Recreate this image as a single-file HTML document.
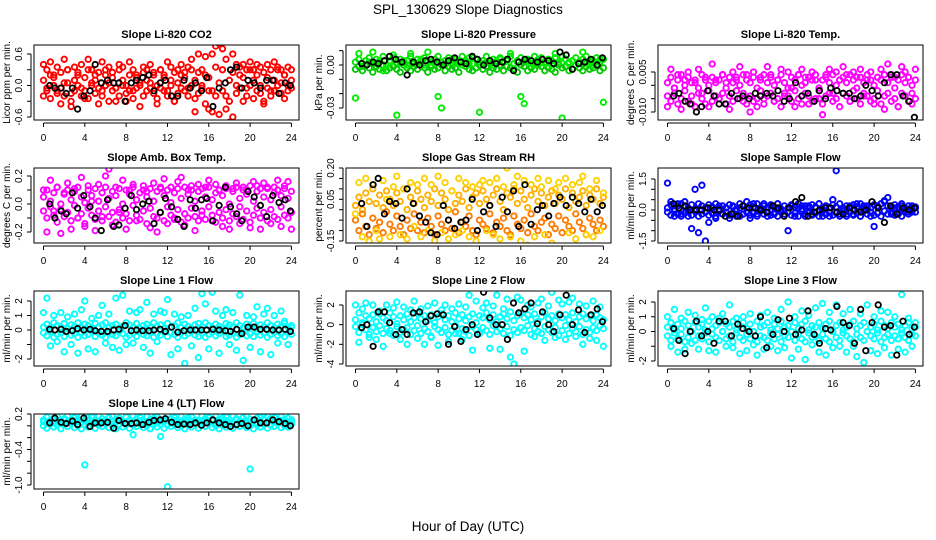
<!DOCTYPE html>
<html><head><meta charset="utf-8"><style>
body{margin:0;background:#fff;}
svg{display:block;font-family:"Liberation Sans",Arial,sans-serif;}
</style></head><body>
<svg id="chart" width="936" height="540" viewBox="0 0 936 540" xmlns="http://www.w3.org/2000/svg">
<rect x="0" y="0" width="936" height="540" fill="#fff"/>
<text x="468" y="14" font-size="13.5" text-anchor="middle">SPL_130629  Slope Diagnostics</text>
<text x="468" y="531" font-size="13.5" text-anchor="middle">Hour of Day (UTC)</text>
</svg>
<script>
const HC=[0,.33,.67,1,1.33,1.67,2,2.33,2.67,3,3.33,3.67,4,4.33,4.67,5,5.33,5.67,6,6.33,6.67,7,7.33,7.67,8,8.33,8.67,9,9.33,9.67,10,10.33,10.67,11,11.33,11.67,12,12.33,12.67,13,13.33,13.67,14,14.33,14.67,15,15.33,15.67,16,16.33,16.67,17,17.33,17.67,18,18.33,18.67,19,19.33,19.67,20,20.33,20.67,21,21.33,21.67,22,22.33,22.67,23,23.33,23.67,24];
const HB=[0.6,1.1,1.7,2.2,2.8,3.3,3.9,4.5,5.0,5.6,6.2,6.8,7.3,7.9,8.5,9.0,9.6,10.2,10.7,11.3,11.8,12.4,13.0,13.6,14.2,14.7,15.3,15.8,16.4,17.0,17.6,18.1,18.7,19.2,19.8,20.4,21.0,21.6,22.2,22.8,23.4,23.9];
const xTicks=[0,4,8,12,16,20,24];

const co2C1=[.1,-.05,.2,.15,-.1,.25,.05,.3,-.15,.1,.2,-.05,.15,.3,0,.1,.25,-.1,.2,.05,.15,-.05,.3,.1,0,.2,-.1,.15,.05,.25,.1,-.05,.2,0,.3,.15,-.1,.1,.25,.05,.2,.15,-.05,.3,.1,.25,0,.2,.15,-.1,.35,.05,.3,-.2,.1,.25,0,.2,.15,-.05,.3,.1,.2,0,.25,.15,-.1,.1,.3,.05,.2,0,.1];
const co2C2=[-.2,-.1,-.25,0,-.15,-.05,-.2,.05,-.3,-.1,0,-.2,-.1,-.25,.05,-.15,-.05,-.2,0,-.3,-.1,-.05,-.2,0,-.15,-.1,-.25,-.05,0,-.2,-.1,.05,-.15,-.25,-.05,-.1,-.2,0,-.3,-.15,-.05,-.1,-.2,0,-.25,-.15,-.05,-.35,-.1,-.5,-.2,-.55,-.1,-.45,-.3,-.6,-.15,-.05,-.3,-.2,0,-.25,-.1,-.15,-.3,-.05,-.2,-.1,0,-.15,-.25,-.1,-.05];
const co2C3=[.4,.3,.45,.2,.35,-.35,.5,.3,-.4,.35,.25,.4,-.25,.5,.3,.2,-.35,.45,.3,.35,.25,-.3,.4,.35,-.3,.45,.3,.2,-.4,.35,.3,.4,.25,-.35,.3,.2,.45,.35,-.3,.3,.4,.25,.35,.5,-.5,.6,.3,.55,-.45,.6,.75,.8,.7,.5,-.7,.6,.4,.35,.4,.3,.45,.3,.4,.35,-.35,.4,.3,.45,.35,.3,.2,.35,.3];
const co2B=[0,-.05,-.05,-.15,-.05,-.45,-.2,-.1,.4,.05,.1,.05,.05,-.3,.05,.1,.15,.2,-.1,.05,.1,-.2,-.2,.1,-.05,.05,-.1,.15,-.4,-.05,.05,.3,.35,-.05,.1,.05,-.05,.1,.1,-.15,.05,0];

const presC1=[.002,.004,-.001,.003,.005,.001,.004,.002,.006,0,.003,.005,.001,.004,.002,.003,.006,.001,.004,.002,.005,.003,0,.004,.006,.002,.003,.005,.001,.004,.002,.006,.003,.001,.005,.004,.002,.003,.006,.001,.004,.003,.005,.002,.004,.006,.001,.003,.005,.002,.004,.003,.006,.001,.005,.002,.004,.003,.005,.001,.006,.004,.002,.003,.005,.001,.004,.006,.002,.003,.005,.002,.004];
const presC2=[-.003,-.001,-.004,0,-.002,-.005,-.001,-.003,0,-.004,-.002,-.001,-.003,-.005,0,-.002,-.004,-.001,-.003,0,-.002,-.005,-.001,-.003,-.002,0,-.004,-.001,-.003,-.002,-.005,0,-.001,-.003,-.004,-.002,0,-.003,-.001,-.005,-.002,-.003,0,-.004,-.001,-.002,-.003,-.005,0,-.001,-.004,-.002,-.003,0,-.001,-.004,-.002,-.003,-.005,0,-.002,-.001,-.004,-.003,0,-.002,-.004,-.001,-.003,-.002,0,-.004,-.002];
const presC3=[-.023,.008,.001,0,.002,.009,.001,.003,-.004,0,.002,.007,-.035,.001,.003,0,.008,.002,.001,.004,0,.009,.002,.001,-.022,-.03,0,.002,.004,.001,.003,0,.002,.005,.001,.004,-.033,.001,.002,.003,0,.001,.004,.002,.003,.008,.001,.002,-.022,-.027,.003,.001,0,.004,.002,.001,.003,0,.008,.002,-.037,.004,.001,.003,0,.002,.009,.001,.003,0,.002,.004,-.026];
const presB=[.001,0,.002,.001,.003,.006,.004,.002,-.007,.002,0,.003,.004,.002,0,.003,.005,.002,.001,.006,.004,0,.003,.001,.002,.004,-.004,.002,.004,.003,.002,.004,.003,.001,.009,.007,-.003,.001,.002,.004,0,.005];

const ltC1=[.001,.003,-.001,.002,.004,0,.003,.001,.002,-.001,.004,.002,0,.003,.001,.002,.004,-.001,.003,.001,.002,0,.004,.002,.001,.003,-.001,.002,.004,.001,.003,0,.002,.004,.001,-.001,.003,.002,.004,0,.001,.003,.002,.004,-.001,.002,.003,.001,.004,0,.002,.003,.001,.004,.002,-.001,.003,.001,.004,.002,0,.003,.002,.004,.001,.003,-.001,.002,.004,.001,.003,0,.002];
const ltC2=[-.004,-.006,-.003,-.007,-.005,-.002,-.006,-.004,-.008,-.003,-.005,-.007,-.002,-.006,-.004,-.005,-.003,-.007,-.004,-.006,-.002,-.005,-.003,-.007,-.004,-.006,-.005,-.002,-.007,-.004,-.003,-.006,-.005,-.008,-.003,-.004,-.006,-.002,-.005,-.007,-.003,-.004,-.006,-.005,-.002,-.007,-.004,-.003,-.006,-.005,-.008,-.003,-.004,-.006,-.002,-.005,-.007,-.003,-.004,-.006,-.005,-.002,-.007,-.004,-.003,-.006,-.005,-.008,-.003,-.004,-.006,-.003,-.005];
const ltC3=[-.008,.006,-.001,.004,-.009,.002,.005,-.007,.001,.006,-.003,.003,-.008,.008,.002,-.005,.004,.001,-.009,.005,.003,.007,-.006,.004,-.01,.005,-.008,.003,-.005,.007,.004,-.006,.002,.006,-.004,.005,-.001,-.008,.004,.006,.003,-.007,.005,.002,-.005,-.011,.004,.006,-.003,.005,.002,.007,.004,-.006,.005,.003,.006,-.004,.002,.005,-.007,.003,.006,-.009,.008,.004,.003,-.008,.007,.005,.003,-.007,.006];
const ltB=[-.004,-.003,-.006,-.007,-.01,-.008,-.002,-.004,-.007,-.007,-.003,-.005,-.004,-.005,-.003,-.004,-.003,-.004,-.002,-.006,-.005,.001,-.004,-.003,-.006,-.002,-.005,-.001,-.002,-.003,-.003,-.005,-.004,0,-.002,-.004,.001,.004,.004,-.004,-.006,-.012];

const abC1=[.05,.1,.02,.08,.12,0,.07,.1,.03,.09,.12,.05,.01,.1,.06,.11,.02,.08,.12,.04,.09,.06,.11,0,.1,.07,.12,.03,.08,.1,.05,.11,.02,.09,.12,.06,.1,.01,.08,.11,.04,.12,.07,.1,.02,.09,.11,.05,.12,.03,.08,.1,.06,.11,0,.09,.12,.04,.1,.07,.13,.02,.09,.11,.05,.12,.03,.08,.1,.06,.11,.04,.09];
const abC2=[-.05,-.1,-.02,-.08,-.13,-.04,-.09,-.06,-.12,-.01,-.1,-.07,-.14,-.03,-.08,-.11,-.05,-.12,-.02,-.09,-.06,-.13,-.04,-.1,-.07,-.12,-.01,-.08,-.11,-.05,-.14,-.03,-.09,-.1,-.06,-.12,-.02,-.08,-.11,-.04,-.13,-.07,-.1,-.03,-.09,-.12,-.05,-.11,-.02,-.08,-.13,-.06,-.1,-.04,-.12,-.07,-.09,-.02,-.11,-.05,-.13,-.08,-.03,-.1,-.06,-.12,-.04,-.09,-.11,-.02,-.08,-.1,-.06];
const abC3=[.1,-.2,.17,-.05,.12,-.21,.08,.15,-.18,.11,-.1,.19,-.16,.13,.02,-.19,.14,-.09,.2,.25,-.15,.12,-.06,.17,-.18,.1,.14,-.12,-.3,.13,.09,-.17,.15,-.2,.11,.18,-.14,.12,-.1,.16,.19,-.15,.1,.13,-.19,.14,-.08,.12,.17,-.12,.14,.1,-.16,.13,-.18,.11,.15,-.14,.12,.1,-.17,.16,.13,-.18,.15,.11,-.14,.12,.17,-.16,.13,.16,-.18];
const abB=[0,-.1,-.05,-.07,.08,-.03,.06,-.02,-.1,-.19,.03,-.16,-.15,-.03,.06,-.04,0,.02,-.14,-.06,.04,-.02,-.11,-.16,.03,-.03,.03,.04,-.12,-.01,.12,-.02,-.07,-.12,.09,.05,-.01,-.09,.06,.01,.03,-.05];

const rhC1=[.02,.06,0,.08,.04,.1,.03,.07,.01,.09,.05,.02,.08,.04,.1,0,.06,.03,.09,.05,.01,.07,.04,.1,.02,.08,.05,0,.09,.03,.07,.04,.1,.01,.06,.08,.03,.09,.05,.02,.07,.1,.04,0,.08,.06,.1,.03,.09,.05,.01,.07,.1,.04,.08,.02,.06,.09,.03,.07,.05,.1,.01,.08,.04,.06,.09,.02,.07,.05,.1,.03,.06];
const rhC2=[-.05,-.1,-.02,-.08,-.12,-.04,-.09,-.06,-.11,-.01,-.07,-.1,-.03,-.08,-.12,-.05,-.09,-.02,-.1,-.06,-.11,-.04,-.08,-.12,-.03,-.07,-.1,-.05,-.09,-.01,-.11,-.06,-.08,-.03,-.1,-.12,-.05,-.07,-.09,-.02,-.11,-.06,-.08,-.04,-.1,-.12,-.03,-.07,-.09,-.05,-.11,-.02,-.08,-.1,-.06,-.04,-.12,-.07,-.09,-.03,-.11,-.05,-.08,-.1,-.02,-.06,-.09,-.12,-.04,-.07,-.1,-.05,-.08];
const rhC3=[-.02,.13,-.13,.15,-.15,.12,-.1,-.14,.14,.05,-.13,.11,.16,-.12,.1,-.14,.13,-.08,.12,-.13,.15,-.1,.12,-.15,.16,-.11,.13,-.14,.09,-.12,.15,-.1,.13,-.13,.11,-.15,.12,.14,-.1,.13,-.12,.15,-.14,.11,.2,-.13,.12,.16,-.15,.14,-.17,.12,-.13,.15,.11,-.12,.14,-.16,.1,.13,-.18,.15,-.11,.12,-.14,.13,.16,-.12,.1,-.13,.14,-.1,.08];
const rhB=[.03,-.08,.12,.15,-.02,.04,.03,-.04,.1,.03,-.03,-.06,-.11,-.12,.02,-.05,-.09,-.06,-.05,.05,-.1,-.01,.02,-.08,.06,-.01,.09,-.08,.12,-.07,0,.02,-.03,.03,.06,.02,.06,.03,-.01,.05,-.01,.02];

const sfC1=[.1,.25,.05,.2,.3,.15,.1,.25,.05,.3,.2,.1,.25,.15,.3,.05,.2,.1,.25,.15,.05,.3,.2,.1,.25,.15,.3,.05,.2,.1,.25,.15,.3,.05,.2,.1,.25,.15,.3,.05,.2,.1,.25,.15,.3,.05,.2,.1,.25,.15,.3,.05,.2,.1,.25,.15,.3,.05,.2,.1,.25,.15,.3,.45,.2,.1,.25,.15,.3,.05,.2,.1,.15];
const sfC2=[-.1,-.25,-.05,-.2,-.3,-.15,-.1,-.25,-.05,-.3,-.2,-.1,-.25,-.15,-.3,-.05,-.2,-.1,-.25,-.15,-.05,-.3,-.2,-.1,-.25,-.15,-.3,-.05,-.2,-.1,-.25,-.15,-.3,-.05,-.2,-.1,-.25,-.15,-.3,-.05,-.2,-.1,-.25,-.15,-.3,-.05,-.2,-.1,-.25,-.15,-.3,-.05,-.2,-.1,-.25,-.15,-.3,-.05,-.2,-.1,-.25,-.15,-.3,-.05,-.2,-.1,-.25,-.15,-.3,-.05,-.2,-.1,-.1];
const sfC3=[1.3,.4,-.3,.3,-.2,.4,-.3,-.9,1.0,-1.1,1.2,-1.5,-.6,.1,-.4,.2,-.2,.1,-.4,.2,-.3,.1,-.2,.4,-.4,.3,-.2,.1,.3,-.3,.2,-.2,.3,-.1,-.2,-1.0,.2,-.3,.1,.2,-.3,.2,-.2,.1,.3,-.3,.2,-.3,.5,1.9,-.2,.1,-.3,.2,-.2,.3,-.3,.2,.1,-.3,-.8,.2,.3,.4,.6,-.2,.1,-.2,.2,.1,-.1,.2,.1];
const sfB=[.3,.1,.2,0,0,0,.1,0,0,-.3,-.2,-.3,.2,.1,.1,0,-.1,.2,.1,-.3,.1,.4,.6,-.3,-.1,0,.1,.1,-.1,-.2,.1,0,-.1,0,.4,.1,-.6,.2,-.2,.1,0,.1];

const l1C1=[.2,.4,.1,.5,.3,.2,.45,.1,.35,.25,.5,.15,.4,.3,.1,.45,.2,.35,.5,.15,.3,.4,.1,.25,.5,.35,.2,.45,.1,.3,.4,.15,.5,.25,.35,.1,.45,.2,.3,.5,.15,.4,.25,.1,.35,.45,.2,.5,.3,.15,.4,.25,.1,.45,.35,.2,.5,.3,.15,.4,.25,.45,.1,.35,.2,.5,.3,.15,.4,.25,.45,.2,.3];
const l1C2=[-.2,-.4,-.1,-.5,-.3,-.2,-.45,-.1,-.35,-.25,-.5,-.15,-.4,-.3,-.1,-.45,-.2,-.35,-.5,-.15,-.3,-.4,-.1,-.25,-.5,-.35,-.2,-.45,-.1,-.3,-.4,-.15,-.5,-.25,-.35,-.1,-.45,-.2,-.3,-.5,-.15,-.4,-.25,-.1,-.35,-.45,-.2,-.5,-.3,-.15,-.4,-.25,-.1,-.45,-.35,-.2,-.5,-.3,-.15,-.4,-.25,-.45,-.1,-.35,-.2,-.5,-.3,-.15,-.4,-.25,-.45,-.2,-.3];
const l1C3=[1.2,2.2,-1.1,1.0,-.8,1.2,-1.5,.9,-1.0,1.1,-1.6,1.4,2.0,-1.3,.8,-1.5,1.0,1.7,-.9,1.1,-1.2,2.2,-1.4,2.4,-1.0,1.3,-.9,1.2,1.4,-1.2,1.9,-1.6,1.1,-.8,1.3,1.2,2.1,-1.7,1.1,-1.3,.9,-2.3,1.0,-1.1,1.5,-1.9,2.5,1.8,-1.3,2.6,1.3,-1.6,1.0,1.4,-1.0,1.2,-1.4,2.4,-2.1,1.0,-1.2,.9,1.6,-1.5,1.1,1.5,-1.7,1.0,-.9,1.3,.6,-1.0,.2];
const l1B=[.05,0,.05,-.1,-.05,.1,0,.05,-.05,-.1,-.1,0,.05,.3,-.05,0,-.05,-.05,0,.05,-.1,.2,-.15,-.05,0,0,0,0,.05,0,-.05,-.1,.05,-.25,.2,.2,.05,.05,0,0,.05,-.1];

const l2C1=[.5,1.2,.2,.9,.6,1.0,.3,1.1,.7,.4,1.2,.8,.1,.9,.5,1.1,.3,.7,1.2,.6,.9,.4,1.0,.2,.8,1.1,.5,.9,.3,1.2,.6,1.0,.4,.8,1.1,.2,.9,.7,1.2,.5,1.0,.3,.8,1.1,.6,1.3,.4,.9,1.2,.7,1.0,.5,1.1,.3,.8,1.2,.6,.9,.4,1.1,.7,1.0,.5,1.2,.3,.8,1.1,.6,.9,.4,1.0,.7,.5];
const l2C2=[-.2,-.8,0,-.5,-1.0,-.3,-.7,-.1,-.9,-.4,-.6,-1.1,-.2,-.8,-.5,-.3,-1.0,-.6,-.1,-.9,-.4,-.7,-1.2,-.2,-.5,-.8,-.3,-1.0,-.6,-.1,-.9,-.4,-.7,-1.1,-.2,-.5,-.8,-.3,-.6,-1.0,-.1,-.7,-.4,-.9,-.2,-1.1,-.5,-.8,-.3,-.6,-.1,-1.0,-.4,-.7,-.9,-.2,-.5,-.8,-.3,-1.1,-.6,-.1,-.9,-.4,-.7,-.2,-1.0,-.5,-.8,-.3,-.6,-.1,-.4];
const l2C3=[2.0,-1.8,1.6,2.2,-1.3,2.0,-1.5,1.4,-2.2,2.0,-.9,1.7,2.3,-1.5,1.8,-2.0,1.5,2.4,-1.4,1.6,-2.0,1.9,-1.3,2.2,-2.1,1.5,2.0,-1.7,1.6,-.9,2.1,-1.5,1.8,3.0,-2.6,2.4,-.9,1.7,2.2,-2.4,1.9,3.0,-2.5,1.6,2.6,-3.3,-4.0,2.8,2.5,-2.7,2.0,1.8,-1.2,2.2,2.6,-1.6,1.9,3.3,-1.3,2.5,2.1,-1.5,2.3,2.7,-1.2,2.1,-2.0,1.9,-1.4,2.4,-1.6,1.8,-2.2];
const l2B=[-.3,0,-2.2,1.3,1.3,.2,-1.0,-.5,-1.0,1.2,1.3,.3,.9,1.1,1.0,-2.0,-.2,-1.7,-.5,0,-1.0,3.3,.7,0,0,-1.5,2.2,1.2,1.6,2.2,.1,1.3,0,-.7,1.0,3.0,0,1.5,-.8,1.0,1.6,.3];

const l3C1=[.3,.6,.1,.5,.2,.7,.4,0,.6,.3,.5,.1,.7,.2,.4,.6,0,.5,.3,.7,.1,.4,.6,.2,.5,0,.7,.3,.4,.6,.1,.5,.2,.7,.3,.4,0,.6,.2,.5,.7,.1,.4,.3,.6,.2,.5,.7,0,.4,.6,.1,.3,.5,.7,.2,.4,.6,0,.3,.5,.1,.7,.4,.2,.6,.3,.5,.1,.4,.6,.2,.3];
const l3C2=[-.3,-.6,-.1,-.5,-.2,-.7,-.4,0,-.6,-.3,-.5,-.1,-.7,-.2,-.4,-.6,0,-.5,-.3,-.7,-.1,-.4,-.6,-.2,-.5,0,-.7,-.3,-.4,-.6,-.1,-.5,-.2,-.7,-.3,-.4,0,-.6,-.2,-.5,-.7,-.1,-.4,-.3,-.6,-.2,-.5,-.7,0,-.4,-.6,-.1,-.3,-.5,-.7,-.2,-.4,-.6,0,-.3,-.5,-.1,-.7,-.4,-.2,-.6,-.3,-.5,-.1,-.4,-.6,-.2,-.3];
const l3C3=[1.0,-1.0,1.5,-1.4,.9,-1.2,1.3,-.8,1.1,-1.2,.8,1.6,-1.3,1.0,-1.4,.9,1.2,-1.0,1.8,-1.1,.9,-1.5,1.0,-1.3,1.2,-.9,-1.6,1.1,-1.2,1.3,-1.0,.9,-1.3,1.5,-1.1,2.0,-1.8,1.0,-1.2,1.4,-1.9,1.1,-.9,1.6,-1.4,1.9,-1.6,1.3,-1.1,1.8,-1.0,1.2,-1.4,1.5,-1.0,-1.7,1.2,-2.1,1.8,-1.3,1.0,-1.5,1.4,-1.1,1.3,-1.6,1.0,-1.2,2.5,-1.4,.9,-1.0,.6];
const l3B=[.2,-.6,-1.5,0,.7,-.3,0,-.8,.7,.7,-.3,.5,.2,0,-.3,1.0,-1.1,-.2,.8,0,.9,-.2,.1,1.4,-.2,-.8,.2,.1,1.7,.6,.4,-.8,1.5,-1.3,.6,1.8,.3,.4,-1.6,.7,-.2,.3];

const l4C1=[.1,.15,.08,.13,.16,.1,.12,.17,.09,.14,.11,.16,.08,.13,.15,.1,.17,.12,.09,.14,.16,.11,.13,.08,.15,.1,.17,.12,.14,.09,.16,.11,.13,.15,.08,.1,.17,.12,.14,.09,.16,.11,.13,.15,.1,.08,.17,.12,.14,.09,.16,.11,.13,.15,.1,.17,.12,.08,.14,.16,.11,.09,.13,.15,.1,.17,.12,.14,.08,.16,.11,.13,.1];
const l4C2=[0,-.04,.03,-.02,.01,-.05,.02,-.01,.04,-.03,0,-.05,.02,-.02,.03,-.04,.01,-.01,.04,-.03,0,-.05,.02,-.02,.03,-.04,.01,-.01,.04,-.03,0,-.05,.02,-.02,.03,-.04,.01,-.01,.04,-.03,0,-.05,.02,-.02,.03,-.04,.01,-.01,.04,-.03,0,-.05,.02,-.02,.03,-.04,.01,-.01,.04,-.03,0,-.05,.02,-.02,.03,-.04,.01,-.01,.04,-.03,0,-.02,.03];
const l4C3=[.07,.05,.09,.06,.08,.04,.1,.06,.05,.09,.07,.06,-.66,.08,.05,.09,.06,.07,.1,.05,.08,.06,.09,.07,.05,.08,-.15,.06,.09,.07,.05,.1,.06,.08,-.18,.07,-1.03,.06,.09,.05,.08,.07,.1,.06,.05,.09,.07,.08,.06,.1,.05,.08,.07,.09,.06,.05,.1,.08,.07,.06,-.73,.09,.05,.08,.2,.06,.1,.07,.05,.09,.08,.06,.07];
const l4B=[.05,.13,.06,.04,.08,.02,.13,-.01,.05,.05,.06,-.04,.09,.04,.04,.05,.02,.06,.09,.1,.12,.06,.02,.03,.02,.05,.01,.05,.1,.05,.02,-.01,.02,.04,0,.1,.05,.05,.1,.07,.04,0,-.02];

const panels=[
 {name:'co2',title:'Slope Li-820 CO2',ylab:'Licor ppm per min.',col:0,row:0,color:['#ff0000','#ff0000','#ff0000'],c:[co2C1,co2C2,co2C3],b:co2B,
  ticks:[-0.6,-0.3,0,0.3,0.6],labels:['-0.6','','0.0','','0.6'],ref:[0.6,54,-0.6,117]},
 {name:'pressure',title:'Slope Li-820 Pressure',ylab:'kPa per min.',col:1,row:0,color:['#00e000','#00c800','#00ee00'],c:[presC1,presC2,presC3],b:presB,
  ticks:[-0.03,-0.02,-0.01,0,0.01],labels:['-0.03','','','0.00',''],ref:[0,65,-0.03,108]},
 {name:'licor-temp',title:'Slope Li-820 Temp.',ylab:'degrees C per min.',col:2,row:0,color:['#ff00ff','#ff00ff','#ff00ff'],c:[ltC1,ltC2,ltC3],b:ltB,
  ticks:[-0.01,-0.005,0,0.005],labels:['-0.010','','','0.005'],ref:[0.005,72,-0.010,112]},
 {name:'amb-box-temp',title:'Slope Amb. Box Temp.',ylab:'degrees C per min.',col:0,row:1,color:['#ff00ff','#ff00ff','#ff00ff'],c:[abC1,abC2,abC3],b:abB,
  ticks:[-0.2,-0.1,0,0.1,0.2],labels:['-0.2','','0.0','','0.2'],ref:[0.2,176,-0.2,232]},
 {name:'gas-stream-rh',title:'Slope Gas Stream RH',ylab:'percent per min.',col:1,row:1,color:['#ffb000','#ff7a00','#ffd000'],c:[rhC1,rhC2,rhC3],b:rhB,
  ticks:[-0.15,-0.1,-0.05,0,0.05,0.1,0.15,0.2],labels:['-0.15','','','','0.05','','','0.20'],ref:[0.2,168,-0.15,241]},
 {name:'sample-flow',title:'Slope Sample Flow',ylab:'ml/min per min.',col:2,row:1,color:['#0000ff','#0000ff','#0000ff'],c:[sfC1,sfC2,sfC3],b:sfB,
  ticks:[-1.5,-1,-0.5,0,0.5,1,1.5],labels:['-1.5','','','0.0','','','1.5'],ref:[1.5,179,-1.5,241]},
 {name:'line1-flow',title:'Slope Line 1 Flow',ylab:'ml/min per min.',col:0,row:2,color:['#00ffff','#00ffff','#00ffff'],c:[l1C1,l1C2,l1C3],b:l1B,
  ticks:[-2,-1,0,1,2],labels:['-2','','0','1','2'],ref:[2,301,-2,359]},
 {name:'line2-flow',title:'Slope Line 2 Flow',ylab:'ml/min per min.',col:1,row:2,color:['#00ffff','#00ffff','#00ffff'],c:[l2C1,l2C2,l2C3],b:l2B,
  ticks:[-4,-2,0,2],labels:['-4','-2','0','2'],ref:[2,305,-4,364]},
 {name:'line3-flow',title:'Slope Line 3 Flow',ylab:'ml/min per min.',col:2,row:2,color:['#00ffff','#00ffff','#00ffff'],c:[l3C1,l3C2,l3C3],b:l3B,
  ticks:[-2,-1,0,1,2],labels:['-2','','0','1','2'],ref:[2,302,-2,361]},
 {name:'line4-flow',title:'Slope Line 4 (LT) Flow',ylab:'ml/min per min.',col:0,row:3,color:['#00ffff','#00ffff','#00ffff'],c:[l4C1,l4C2,l4C3],b:l4B,
  ticks:[-1.0,-0.8,-0.6,-0.4,-0.2,0,0.2],labels:['-1.0','','','-0.4','','','0.2'],ref:[0.2,414,-1.0,485]}
];

const NS='http://www.w3.org/2000/svg';
const svg=document.getElementById('chart');
const LEFTS=[34,346,658], TOPS=[45,168,291,414], W=265, H=75;
function mk(tag,attrs,parent){const e=document.createElementNS(NS,tag);for(const k in attrs)e.setAttribute(k,attrs[k]);parent.appendChild(e);return e;}

panels.forEach(p=>{
  const L=LEFTS[p.col], T=TOPS[p.row];
  const xs=h=>L+9.5+h*10.33;
  const ys=v=>p.ref[1]+(v-p.ref[0])*(p.ref[3]-p.ref[1])/(p.ref[2]-p.ref[0]);
  const g=mk('g',{},svg);
  
  
  const clipId='clip-'+p.name;
  const cp=mk('clipPath',{id:clipId},g);
  mk('rect',{x:L,y:T,width:W,height:H},cp);
  const pts=mk('g',{'clip-path':'url(#'+clipId+')'},g);
  
  
  p.c.forEach((arr,si)=>{
    const n=Math.min(arr.length,HC.length);
    for(let i=0;i<n;i++){
      const c=mk('circle',{cx:xs(HC[i]).toFixed(1),cy:ys(arr[i]).toFixed(1),r:2.7,fill:'none',stroke:p.color[si],'stroke-width':1.9},pts);
      
      
    }
  });
  const nb=Math.min(p.b.length,HB.length);
  for(let i=0;i<nb;i++){
    const c=mk('circle',{cx:xs(HB[i]).toFixed(1),cy:ys(p.b[i]).toFixed(1),r:2.7,fill:'none',stroke:'#000','stroke-width':1.8},pts);
    
    
  }
  const box=mk('rect',{x:L,y:T,width:W,height:H,fill:'none',stroke:'#000','stroke-width':1},g);
  
  
  const tt=mk('text',{x:L+W/2,y:T-7,'font-size':11,'font-weight':'bold','text-anchor':'middle'},g);
  tt.textContent=p.title;
  
  
  mk('line',{x1:xs(0),x2:xs(24),y1:T+H+3,y2:T+H+3,stroke:'#000','stroke-width':1},g);
  xTicks.forEach(t=>{
    mk('line',{x1:xs(t),x2:xs(t),y1:T+H+3,y2:T+H+7,stroke:'#000','stroke-width':1},g);
    const tx=mk('text',{x:xs(t),y:T+H+21,'font-size':10,'text-anchor':'middle'},g);
    tx.textContent=String(t);
    
    
  });
  const yv=p.ticks.map(ys);
  mk('line',{x1:L-3,x2:L-3,y1:Math.min(...yv),y2:Math.max(...yv),stroke:'#000','stroke-width':1},g);
  p.ticks.forEach((t,i)=>{
    const y=ys(t);
    mk('line',{x1:L-7,x2:L-3,y1:y,y2:y,stroke:'#000','stroke-width':1},g);
    if(p.labels[i]){
      const tx=mk('text',{x:L-12,y:y,'font-size':10,'text-anchor':'middle',transform:'rotate(-90 '+(L-12)+' '+y+')'},g);
      tx.textContent=p.labels[i];
      
      
    }
  });
  const yl=mk('text',{x:L-24,y:T+H/2,'font-size':10,'text-anchor':'middle',transform:'rotate(-90 '+(L-24)+' '+(T+H/2)+')'},g);
  yl.textContent=p.ylab;
  
  
});
</script>
</body></html>
